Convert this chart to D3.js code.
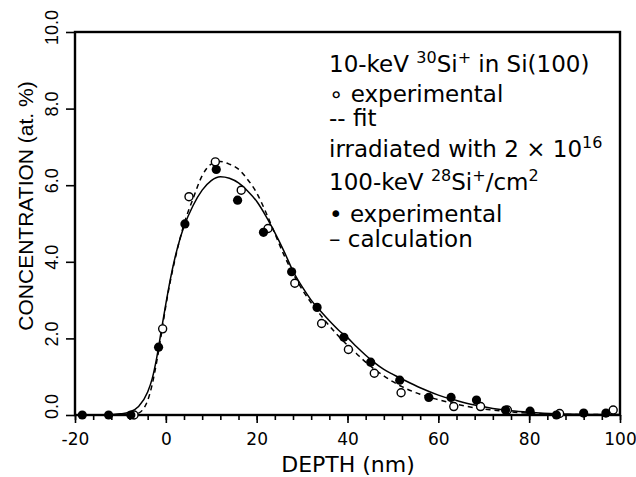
<!DOCTYPE html>
<html>
<head>
<meta charset="utf-8">
<script src="https://cdn.jsdelivr.net/npm/d3@7"></script>
<style>
  body { margin: 0; background: #fff; }
  svg { display: block; }
  .tick line { stroke: #000; stroke-width: 1.6; }
  .legend text { font-family: "DejaVu Sans", sans-serif; font-size: 23px; fill: #000; }
</style>
</head>
<body>
<script>
//////////////// Variables ////////////////////
var margin = {top: 32, right: 16, bottom: 62, left: 75},
  width = 636 - margin.left - margin.right,
  height = 477 - margin.top - margin.bottom;

//////////////// Datas ////////////////////
var depthTicks = [-20, 0, 20, 40, 60, 80, 100];
var concTicks = [0, 2, 4, 6, 8, 10];

// 10-keV 30Si+ experimental (open circles)
var openDepth = [-7, -0.7, 5.1, 10.9, 16.6, 22.5, 28.4, 34.3, 40.2, 45.9, 51.8, 63.4, 69.3, 75.2, 86.7, 98.5];
var openConc  = [0, 2.25, 5.70, 6.61, 5.87, 4.87, 3.44, 2.39, 1.71, 1.09, 0.58, 0.22, 0.22, 0.13, 0.04, 0.13];

// irradiated, experimental (filled circles)
var filledDepth = [-18.4, -12.6, -7.7, -1.6, 4.2, 11.1, 15.8, 21.5, 27.7, 33.3, 39.2, 45.1, 51.5, 57.9, 62.8, 68.4, 74.8, 80.2, 86.0, 92.0, 96.9];
var filledConc  = [0, 0, 0, 1.77, 4.99, 6.41, 5.61, 4.77, 3.74, 2.81, 2.03, 1.38, 0.91, 0.46, 0.46, 0.39, 0.13, 0.10, 0.0, 0.05, 0.05];

// fit (dashed)
var fitDepth = [-8, -6, -5, -4, -3, -2, -1, 0, 1, 2, 3, 4, 6, 8, 10, 12, 14, 16, 18, 20, 22, 24, 26, 28, 30, 32, 34, 36, 38, 40, 42, 44, 46, 48, 50, 52, 56, 60, 64, 68, 72, 76, 80, 86, 92, 100];
var fitConc  = [0, 0.05, 0.15, 0.38, 0.8, 1.4, 2.1, 2.85, 3.5, 4.05, 4.55, 4.98, 5.65, 6.25, 6.55, 6.62, 6.55, 6.42, 6.15, 5.8, 5.3, 4.74, 4.18, 3.7, 3.28, 2.93, 2.62, 2.33, 2.06, 1.82, 1.6, 1.38, 1.19, 1.02, 0.87, 0.74, 0.54, 0.4, 0.28, 0.19, 0.13, 0.08, 0.05, 0.02, 0.01, 0.01];

// calculation (solid)
var calcDepth = [-20, -14, -12, -10, -8, -6, -4, -3, -2, -1, 0, 1, 2, 3, 4, 6, 8, 10, 12, 14, 16, 18, 20, 22, 24, 26, 28, 30, 32, 34, 36, 38, 40, 42, 44, 46, 48, 50, 52, 56, 60, 64, 68, 72, 76, 80, 86, 92, 100];
var calcConc  = [0, 0, 0.01, 0.03, 0.08, 0.22, 0.6, 0.95, 1.5, 2.2, 2.9, 3.55, 4.1, 4.55, 4.92, 5.47, 5.87, 6.12, 6.22, 6.18, 6.06, 5.85, 5.58, 5.2, 4.76, 4.28, 3.76, 3.35, 3.0, 2.72, 2.46, 2.22, 2.02, 1.78, 1.56, 1.36, 1.19, 1.06, 0.94, 0.71, 0.52, 0.38, 0.26, 0.17, 0.11, 0.07, 0.03, 0.015, 0.01];

function zip(xs, ys) { return xs.map(function(x, i) { return {d: x, c: ys[i]}; }); }

//////////////// SVG ////////////////////
var svg = d3.select("body")
  .append("svg")
  .attr("width", width + margin.left + margin.right)
  .attr("height", height + margin.top + margin.bottom)
  .append("g")
    .attr("transform", "translate(" + margin.left + "," + margin.top + ")");

///////////////////////// Scaling /////////////////////////
var xScale = d3.scaleLinear().domain([-20, 100]).range([0, width]);
var yScale = d3.scaleLinear().domain([0, 10]).range([height, 0]);

///////////////////////// Axen /////////////////////////
// minor ticks on depth axis (every 4 nm)
svg.append("g")
  .attr("transform", "translate(0," + height + ")")
  .call(d3.axisBottom(xScale).tickValues(d3.range(-20, 101, 4)).tickSize(5).tickFormat(""))
  .call(function(g) { g.select(".domain").remove(); });

var xAchse = svg.append("g")
  .attr("class", "x axis")
  .attr("transform", "translate(0," + height + ")")
  .call(d3.axisBottom(xScale).tickValues(depthTicks).tickSize(8).tickPadding(10).tickFormat(d3.format("d")))
  .call(function(g) { g.select(".domain").remove(); });
xAchse.selectAll("text")
  .style("font-family", "'DejaVu Sans', sans-serif")
  .style("font-size", "17px")
  .attr("fill", "#000")
  .text(function(d) { return d < 0 ? "-" + Math.abs(d) : d; });

var yAchse = svg.append("g")
  .attr("class", "y axis")
  .call(d3.axisLeft(yScale).tickValues(concTicks).tickSize(9).tickFormat(d3.format(".1f")))
  .call(function(g) { g.select(".domain").remove(); });
yAchse.selectAll("text")
  .attr("x", 0).attr("dy", 0)
  .attr("transform", function(d) { return "translate(-17," + (d === 0 ? -9 : -5) + ") rotate(-90)"; })
  .style("text-anchor", "middle")
  .style("font-family", "'Liberation Sans', Arial, sans-serif")
  .style("font-size", "18px")
  .attr("fill", "#000");

// frame
svg.append("rect")
  .attr("width", width).attr("height", height)
  .attr("fill", "none").attr("stroke", "#000").attr("stroke-width", 2.4);

svg.append("text")
  .attr("transform", "translate(" + (33 - margin.left) + "," + (206 - margin.top) + ") rotate(-90)")
  .style("text-anchor", "middle")
  .style("font-family", "'Liberation Sans', Arial, sans-serif")
  .style("font-size", "21px")
  .text("CONCENTRATION (at. %)");

svg.append("text")
  .attr("x", 348 - margin.left).attr("y", 472 - margin.top)
  .style("text-anchor", "middle")
  .style("font-family", "'DejaVu Sans', sans-serif")
  .style("font-size", "22px")
  .text("DEPTH (nm)");

///////////////// Shapes /////////////////
var line = d3.line()
  .x(function(p) { return xScale(p.d); })
  .y(function(p) { return yScale(p.c); })
  .curve(d3.curveMonotoneX);

var shapes = svg.append("g").attr("class", "shapes");

shapes.append("path")
  .datum(zip(fitDepth, fitConc))
  .attr("d", line)
  .attr("fill", "none").attr("stroke", "#000").attr("stroke-width", 1.5)
  .attr("stroke-dasharray", "5,4");

shapes.append("path")
  .datum(zip(calcDepth, calcConc))
  .attr("d", line)
  .attr("fill", "none").attr("stroke", "#000").attr("stroke-width", 1.5);

shapes.selectAll("circle.open")
  .data(zip(openDepth, openConc))
  .enter().append("circle")
  .attr("class", "open")
  .attr("cx", function(p) { return xScale(p.d); })
  .attr("cy", function(p) { return yScale(p.c); })
  .attr("r", 4)
  .attr("fill", "#fff").attr("stroke", "#000").attr("stroke-width", 1.4);

shapes.selectAll("circle.filled")
  .data(zip(filledDepth, filledConc))
  .enter().append("circle")
  .attr("class", "filled")
  .attr("cx", function(p) { return xScale(p.d); })
  .attr("cy", function(p) { return yScale(p.c); })
  .attr("r", 4.6)
  .attr("fill", "#000");

////////////// Legende //////////////
var legend = svg.append("g").attr("class", "legend")
  .attr("transform", "translate(" + (329 - margin.left) + "," + (-margin.top) + ")");

var l1 = legend.append("text").attr("y", 72);
l1.append("tspan").text("10-keV ");
l1.append("tspan").attr("dy", -9).style("font-size", "16px").text("30");
l1.append("tspan").attr("dy", 9).text("Si");
l1.append("tspan").attr("dy", -9).style("font-size", "16px").text("+");
l1.append("tspan").attr("dy", 9).text(" in Si(100)");

legend.append("text").attr("y", 102).text("∘ experimental");
legend.append("text").attr("y", 126).text("-- fit");

var l4 = legend.append("text").attr("y", 157);
l4.append("tspan").text("irradiated with 2 × 10");
l4.append("tspan").attr("dy", -9).style("font-size", "16px").text("16");

var l5 = legend.append("text").attr("y", 190);
l5.append("tspan").text("100-keV ");
l5.append("tspan").attr("dy", -9).style("font-size", "16px").text("28");
l5.append("tspan").attr("dy", 9).text("Si");
l5.append("tspan").attr("dy", -9).style("font-size", "16px").text("+");
l5.append("tspan").attr("dy", 9).text("/cm");
l5.append("tspan").attr("dy", -9).style("font-size", "16px").text("2");

legend.append("text").attr("y", 222).text("• experimental");
legend.append("text").attr("y", 247).text("– calculation");
</script>
</body>
</html>
